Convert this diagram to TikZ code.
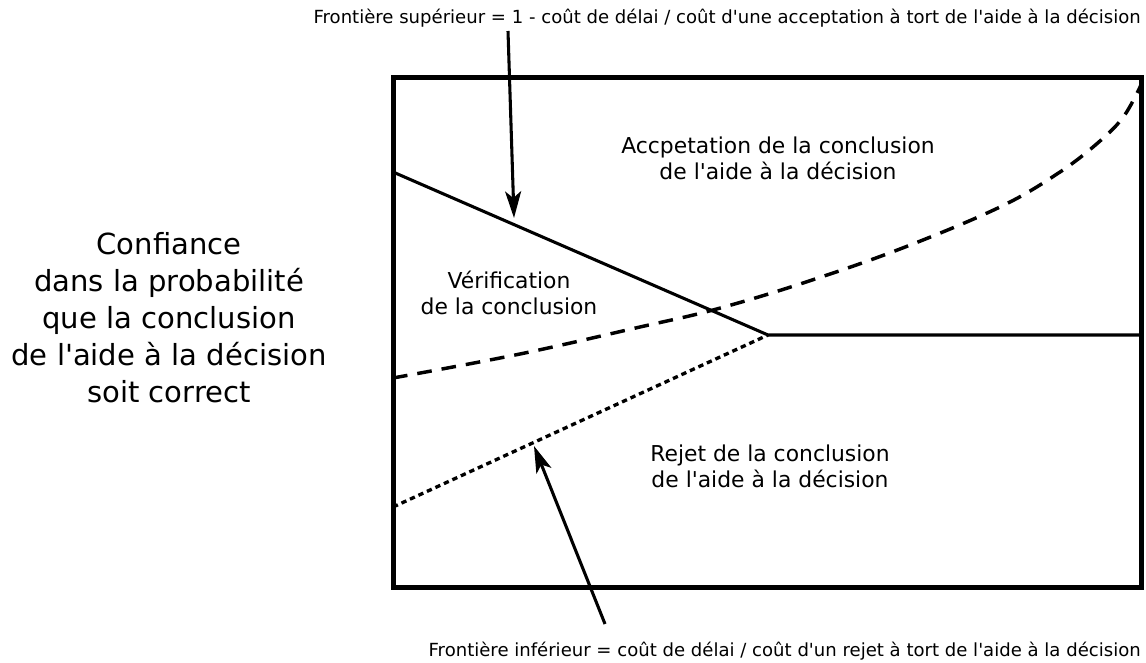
\documentclass[tikz,border=0pt]{standalone}
\usepackage{fontspec}
\setmainfont{DejaVu Sans}[Ligatures=TeXOff]
\usetikzlibrary{arrows.meta}
\begin{document}
\begin{tikzpicture}[x=0.75pt,y=-0.75pt,
  frame/.style={line width=3.75pt},
  bound/.style={line width=2.3pt},
  dotbound/.style={line width=2.5pt, dash pattern=on 4pt off 3pt},
  dashcurve/.style={line width=2.6pt, dash pattern=on 11pt off 7.5pt},
  pointer/.style={line width=2.3pt, -{Stealth[length=20pt,width=12pt,inset=5pt]}},
  region/.style={inner sep=0pt, align=center, font=\fontsize{16.4}{19.5}\selectfont},
  sidelabel/.style={inner sep=0pt, align=center, font=\fontsize{21.8}{27.75}\selectfont},
  note/.style={inner sep=0pt, anchor=east, font=\fontsize{13.55}{16}\selectfont}]
\useasboundingbox (0,0) rectangle (1146,663);
% frame
\draw[frame] (393,78) rectangle (1141,587);
% boundary points
\coordinate (ul) at (393,172);
\coordinate (apex) at (768,335);
\coordinate (ur) at (1141,335);
\coordinate (ll) at (393,507);
\draw[bound] (ul) -- (apex) -- (ur);
\draw[dotbound] (ll) -- (apex);
\draw[dashcurve] plot[smooth, tension=0.6] coordinates {(393,378) (520,354) (640,327) (713,310) (800,284) (900,249) (1000,207) (1060,172) (1100,141) (1124,116) (1141,85)};
% labels
\node[region] (acc) at (778,158) {Accpetation de la conclusion\\de l'aide à la décision};
\node[region] (ver) at (509,293) {Vérification\\de la conclusion};
\node[region] (rej) at (770,466) {Rejet de la conclusion\\de l'aide à la décision};
\node[sidelabel] (conf) at (169,318) {Confiance\\dans la probabilité\\que la conclusion\\de l'aide à la décision\\soit correct};
\node[note] (sup) at (1141,18) {Frontière supérieur = 1 - coût de délai / coût d'une acceptation à tort de l'aide à la décision};
\node[note] (inf) at (1141,651) {Frontière inférieur = coût de délai / coût d'un rejet à tort de l'aide à la décision};
% pointers
\coordinate (supstart) at (508,31);
\coordinate (suptip) at (514,218);
\coordinate (infstart) at (605,624);
\coordinate (inftip) at (534,446);
\draw[pointer] (supstart) -- (suptip);
\draw[pointer] (infstart) -- (inftip);
\end{tikzpicture}
\end{document}
